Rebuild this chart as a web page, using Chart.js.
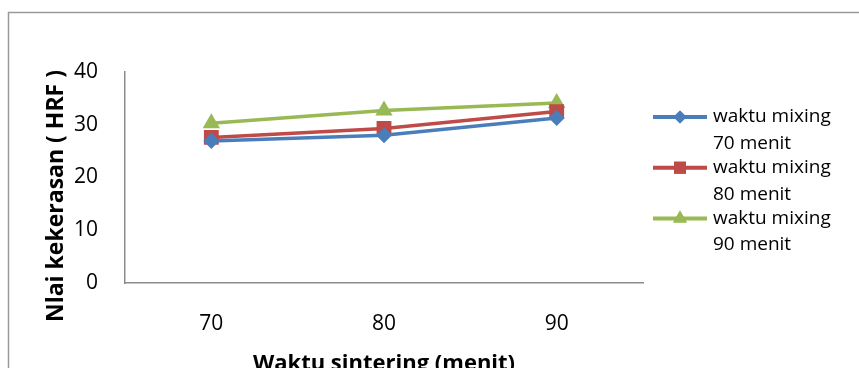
<!DOCTYPE html>
<html>
<head>
<meta charset="utf-8">
<script src="https://cdn.jsdelivr.net/npm/chart.js@4"></script>
<style>
html, body { margin: 0; padding: 0; background: #fff; }
#wrap { width: 859px; height: 368px; }
</style>
</head>
<body>
<div id="wrap"><canvas id="hardnessChart" width="859" height="368"></canvas></div>
<script>
// sintering time (menit) on the x axis
const sinteringTimes = ['70', '80', '90'];

// hardness values (HRF)
const mixing70 = [26.9, 28.0, 31.3];
const mixing80 = [27.6, 29.3, 32.5];
const mixing90 = [30.3, 32.7, 34.1];

const seriesNames = [
    ['waktu mixing', '70 menit'],
    ['waktu mixing', '80 menit'],
    ['waktu mixing', '90 menit'],
];

const yTickValues = [0, 10, 20, 30, 40];

const FONT = '"Open Sans", "Noto Sans", sans-serif';

const hardnessData = {
    labels: sinteringTimes,
    datasets: [
        {
            label: seriesNames[0],
            data: mixing70,
            borderColor: '#4A7EBB', // blue
            backgroundColor: '#4A7EBB',
            pointStyle: 'rectRot',
            pointRadius: 8,
            legendRadius: 6.5,
        },
        {
            label: seriesNames[1],
            data: mixing80,
            borderColor: '#BE4B48', // red
            backgroundColor: '#BE4B48',
            pointStyle: 'rect',
            pointRadius: 10.5,
            legendRadius: 8.5,
        },
        {
            label: seriesNames[2],
            data: mixing90,
            borderColor: '#98B954', // green
            backgroundColor: '#98B954',
            pointStyle: 'triangle',
            pointRadius: 10,
            legendRadius: 8,
        },
    ]
};

// outer frame, custom legend and rotated y title
const decorPlugin = {
    id: 'decor',
    beforeDraw(chart) {
        const ctx = chart.ctx;
        ctx.save();
        ctx.fillStyle = '#fff';
        ctx.fillRect(0, 0, chart.width, chart.height);
        ctx.strokeStyle = '#9a9a9a';
        ctx.lineWidth = 1.5;
        ctx.strokeRect(8.5, 12.5, 1000, 500);
        ctx.restore();
    },
    afterDraw(chart) {
        const ctx = chart.ctx;
        ctx.save();

        // y axis title
        ctx.translate(56, 196);
        ctx.rotate(-Math.PI / 2);
        ctx.font = 'bold 23px ' + FONT;
        ctx.fillStyle = '#000';
        ctx.textAlign = 'center';
        ctx.textBaseline = 'middle';
        ctx.fillText('Nlai kekerasan ( HRF )', 0, 0);
        ctx.restore();

        // legend
        ctx.save();
        ctx.font = '19px ' + FONT;
        ctx.textBaseline = 'middle';
        ctx.textAlign = 'left';
        chart.data.datasets.forEach((ds, i) => {
            const y = 117 + i * 50.7;
            ctx.strokeStyle = ds.borderColor;
            ctx.lineWidth = 4;
            ctx.beginPath();
            ctx.moveTo(653, y);
            ctx.lineTo(707, y);
            ctx.stroke();
            ctx.fillStyle = ds.backgroundColor;
            Chart.helpers.drawPoint(ctx, {
                pointStyle: ds.pointStyle,
                radius: ds.legendRadius,
                borderWidth: 0,
                rotation: 0,
            }, 680, y);
            ctx.fill();
            ctx.fillStyle = '#000';
            ds.label.forEach((line, j) => {
                ctx.fillText(line, 713, y + j * 26.5);
            });
        });
        ctx.restore();
    }
};

const hardnessCanvas = document.getElementById('hardnessChart').getContext('2d');
const hardnessChart = new Chart(hardnessCanvas, {
    type: 'line',
    data: hardnessData,
    options: {
        responsive: false,
        animation: false,
        layout: {
            padding: { left: 0, top: 72, right: 216, bottom: 0 }
        },
        elements: {
            line: { borderWidth: 3.5, tension: 0 },
            point: { borderWidth: 0 }
        },
        scales: {
            x: {
                offset: true,
                grid: { display: false },
                border: { display: true, color: '#8c8c8c', width: 1.5 },
                ticks: {
                    padding: 20,
                    color: '#000',
                    font: { family: FONT, size: 21 }
                },
                title: {
                    display: true,
                    text: 'Waktu sintering (menit)',
                    color: '#000',
                    font: { family: FONT, size: 22, weight: 'bold', lineHeight: 1 },
                    padding: { top: 0, bottom: -7 }
                },
                afterFit: function(scale) {
                    scale.height = 85;
                }
            },
            y: {
                min: 0,
                max: 40,
                grid: { display: false },
                border: { display: true, color: '#8c8c8c', width: 1.5 },
                afterBuildTicks: function(scale) {
                    scale.ticks = yTickValues.map(v => ({ value: v }));
                },
                ticks: {
                    padding: 19,
                    color: '#000',
                    font: { family: FONT, size: 21 }
                },
                afterFit: function(scale) {
                    scale.width = 125;
                }
            }
        },
        plugins: {
            legend: { display: false },
            tooltip: { enabled: false }
        }
    },
    plugins: [decorPlugin]
});
</script>
</body>
</html>
